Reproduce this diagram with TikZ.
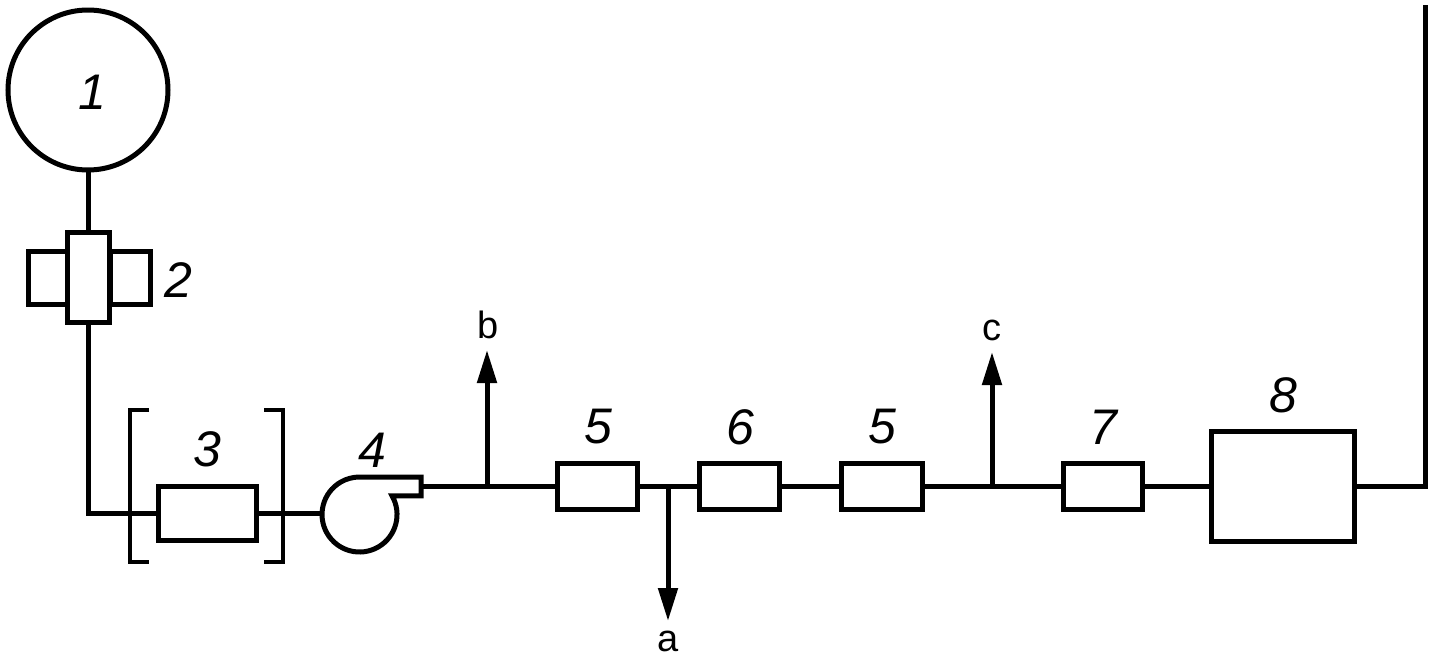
\documentclass[tikz,border=0pt]{standalone}
\usepackage{fontspec}
\setmainfont{Liberation Sans}
\usetikzlibrary{arrows.meta}
\tikzset{
  x=0.5pt,y=-0.5pt,
  line/.style={line width=2.5pt,line join=miter,black},
  unitbox/.style={draw,line width=2.5pt,rectangle,inner sep=0pt,outer sep=0pt,fill=white},
  numlabel/.style={font=\itshape\fontsize{25}{25}\selectfont,inner sep=0pt},
  letterlabel/.style={font=\fontsize{19}{19}\selectfont,inner sep=0pt},
  flow/.style={line,-{Triangle[length=16.5pt,width=9.5pt]}},
  bracketline/.style={line width=2pt,line join=miter,black}
}
\begin{document}
\begin{tikzpicture}
\useasboundingbox (0,0) rectangle (1435,659);
% machine and fan-side components
\node[unitbox,circle,minimum size=80pt] (n1) at (88,90) {};
\node[unitbox,minimum width=20pt,minimum height=26.5pt] (n2l) at (48,277.5) {};
\node[unitbox,minimum width=20pt,minimum height=26.5pt] (n2r) at (130,277.5) {};
\node[unitbox,minimum width=21pt,minimum height=45pt] (n2) at (88,277) {};
\node[unitbox,minimum width=49pt,minimum height=27pt] (n3) at (207,513.5) {};
\coordinate (fanin) at (322,513.5);
\coordinate (fanout) at (421,486);
\coordinate (elbow) at (88,513.5);
% series components
\node[unitbox,minimum width=40pt,minimum height=23pt] (n5a) at (597,486) {};
\node[unitbox,minimum width=40pt,minimum height=23pt] (n6) at (739,486) {};
\node[unitbox,minimum width=40.5pt,minimum height=23pt] (n5b) at (881.5,486) {};
\node[unitbox,minimum width=39.5pt,minimum height=23pt] (n7) at (1102.5,486) {};
\node[unitbox,minimum width=71.5pt,minimum height=55pt] (n8) at (1282.5,486) {};
% junctions and free ends
\coordinate (jb) at (487,486);
\coordinate (ja) at (668,486);
\coordinate (jc) at (992,486);
\coordinate (tb) at (487,350);
\coordinate (ta) at (668,621);
\coordinate (tc) at (992,352);
\coordinate (stackb) at (1425,486);
\coordinate (stackt) at (1425,5);
% connectors
\draw[line] (n1.south) -- (n2.north);
\draw[line] (n2.south) -- (elbow) -- (n3.west);
\draw[line] (n3.east) -- (fanin);
\draw[line] (fanout) -- (n5a.west);
\draw[line] (n5a.east) -- (n6.west);
\draw[line] (n6.east) -- (n5b.west);
\draw[line] (n5b.east) -- (n7.west);
\draw[line] (n7.east) -- (n8.west);
\draw[line] (n8.east) -- (stackb) -- (stackt);
\draw[flow] (jb) -- (tb);
\draw[flow] (ja) -- (ta);
\draw[flow] (jc) -- (tc);
% brackets
\draw[bracketline] (149,410) -- (130,410) -- (130,562) -- (149,562);
\draw[bracketline] (264,410) -- (283,410) -- (283,562) -- (264,562);
% fan volute
\draw[line] (392,495.75) arc[start angle=30,end angle=-270,radius=18.75pt] -- (421,477) -- (421,495.75) -- cycle;
% labels
\node[numlabel] (l1) at (92,92) {1};
\node[numlabel] (l2) at (178,280) {2};
\node[numlabel] (l3) at (207,449) {3};
\node[numlabel] (l4) at (372,450) {4};
\node[numlabel] (l5a) at (598,427) {5};
\node[numlabel] (l6) at (740,427) {6};
\node[numlabel] (l5b) at (882,427) {5};
\node[numlabel] (l7) at (1103,427) {7};
\node[numlabel] (l8) at (1283,395) {8};
\node[letterlabel,anchor=base] (lb) at (488,338) {b};
\node[letterlabel,anchor=base] (la) at (668,651) {a};
\node[letterlabel,anchor=base] (lc) at (992,340) {c};
\end{tikzpicture}
\end{document}
